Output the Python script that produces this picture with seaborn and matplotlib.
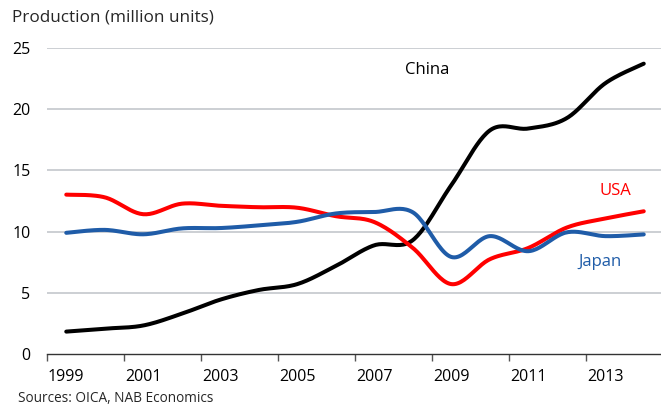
import numpy as np
import pandas as pd
import matplotlib
matplotlib.use("Agg")
import matplotlib.pyplot as plt
import seaborn as sns

years = list(range(1999, 2015))
china = [1.83, 2.07, 2.33, 3.29, 4.44, 5.23, 5.71, 7.19, 8.88, 9.30, 13.79, 18.26, 18.42, 19.27, 22.12, 23.72]
usa = [13.02, 12.80, 11.42, 12.28, 12.11, 11.99, 11.95, 11.26, 10.78, 8.67, 5.71, 7.74, 8.66, 10.33, 11.07, 11.66]
japan = [9.90, 10.14, 9.78, 10.26, 10.29, 10.51, 10.80, 11.48, 11.60, 11.58, 7.93, 9.63, 8.40, 9.94, 9.63, 9.77]
tick_labels = ["1999", "2001", "2003", "2005", "2007", "2009", "2011", "2013"]

sns.set_theme(style="white")
plt.rcParams['font.family'] = ['Open Sans', 'DejaVu Sans']


def smooth(xv, yv, n=24):
    """Excel-style smoothed line (Catmull-Rom / Bezier rendering of the data)."""
    p = np.column_stack([xv, yv]).astype(float)
    pts = np.vstack([p[0], p, p[-1]])
    out = []
    for i in range(1, len(pts) - 2):
        p0, p1, p2, p3 = pts[i - 1], pts[i], pts[i + 1], pts[i + 2]
        c1 = p1 + (p2 - p0) / 6.0
        c2 = p2 - (p3 - p1) / 6.0
        t = np.linspace(0, 1, n, endpoint=(i == len(pts) - 3))[:, None]
        seg = (1 - t) ** 3 * p1 + 3 * (1 - t) ** 2 * t * c1 + 3 * (1 - t) * t ** 2 * c2 + t ** 3 * p2
        out.append(seg)
    s = np.vstack(out)
    return s[:, 0], s[:, 1]


fig = plt.figure(figsize=(6.61, 4.07), dpi=100)
ax = fig.add_axes([47 / 661, 1 - 354 / 407, (663 - 47) / 661, (354 - 48) / 407])

xi = np.arange(len(years))
series = [("China", china, "#000000"), ("USA", usa, "#ff0000"), ("Japan", japan, "#1f5ca8")]
frames = []
for name, vals, col in series:
    sx, sy = smooth(xi, vals)
    frames.append(pd.DataFrame({"x": sx, "y": sy, "s": name}))
df = pd.concat(frames)
palette = {n: c for n, _, c in series}
sns.lineplot(data=df, x="x", y="y", hue="s", units="s", estimator=None, sort=False,
             palette=palette, linewidth=2.9, legend=False, ax=ax, zorder=3)

ax.set_xlim(-0.5, 15.5)
ax.set_ylim(0, 25)
ax.set_yticks([0, 5, 10, 15, 20, 25])
ax.set_yticklabels(["0", "5", "10", "15", "20", "25"])
for v in [5, 10, 15, 20, 25]:
    ax.axhline(v, color="#c3c7cc", linewidth=1.2, zorder=1)

ax.set_xticks(np.arange(-0.5, 15.6, 2))
ax.set_xticklabels([])
ax.set_xticks(np.arange(0, 16, 2), minor=True)
ax.set_xticklabels(tick_labels, minor=True)
ax.tick_params(axis="x", which="major", direction="out", length=5, width=1, color="#555555", bottom=True)
ax.tick_params(axis="x", which="minor", length=0, pad=11, labelsize=11.5, labelcolor="black")
ax.tick_params(axis="y", length=0, pad=12, labelsize=11.5, labelcolor="black")
for lab in ax.get_yticklabels():
    lab.set_horizontalalignment("right")

for sp in ["top", "right", "left"]:
    ax.spines[sp].set_visible(False)
ax.spines["bottom"].set_color("#333333")
ax.spines["bottom"].set_linewidth(1.0)
ax.set_xlabel("")
ax.set_ylabel("")

ax.text(8.8, 23.2, "China", color="black", fontsize=12, va="center", ha="left")
ax.text(13.85, 13.3, "USA", color="#ff0000", fontsize=12, va="center", ha="left")
ax.text(13.3, 7.5, "Japan", color="#1f5ca8", fontsize=12, va="center", ha="left")

fig.text(12 / 661, 1 - 18 / 407, "Production (million units)", fontsize=12.3, va="center", ha="left")
fig.text(18 / 661, 1 - 399 / 407, "Sources: OICA, NAB Economics", fontsize=9.8, va="center", ha="left")

fig.savefig("out.png", dpi=100)
